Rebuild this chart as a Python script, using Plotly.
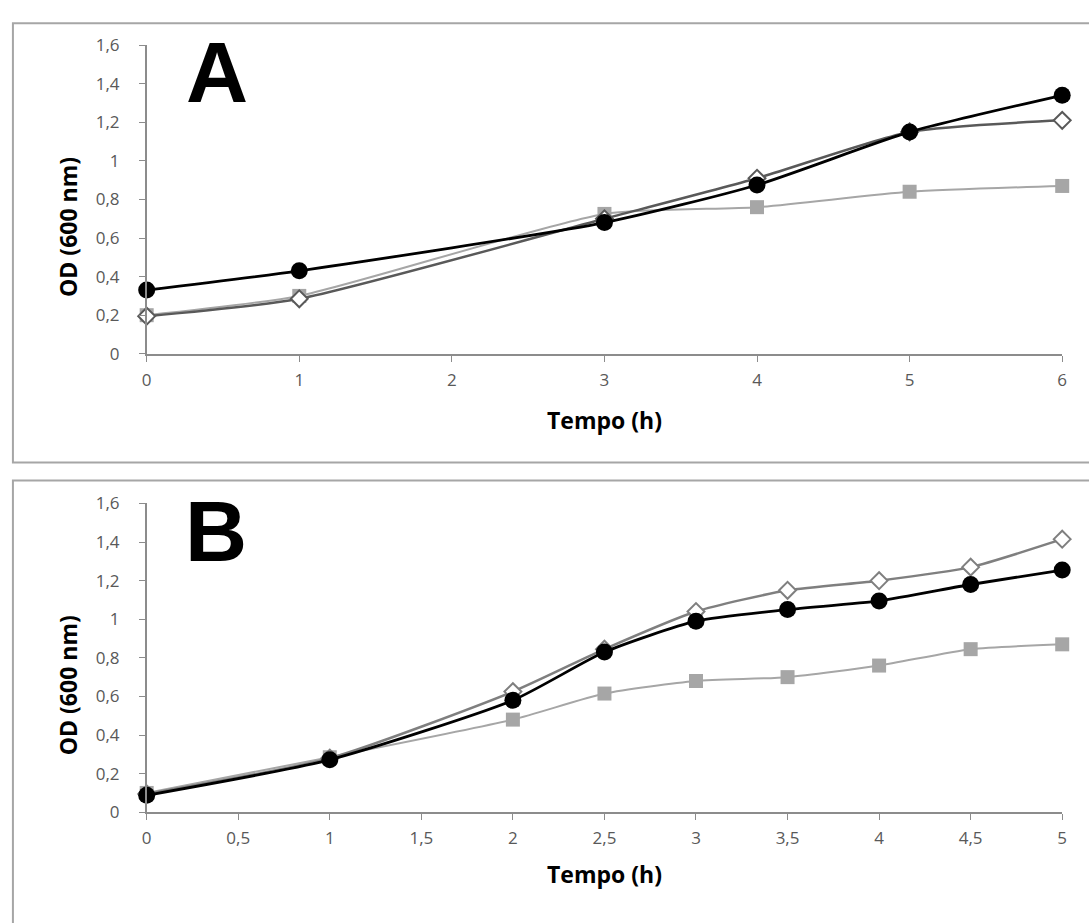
import plotly.graph_objects as go

# ---- data ----
time_a = [0, 1, 3, 4, 5, 6]
a_circle = [0.33, 0.43, 0.68, 0.875, 1.15, 1.34]
a_diamond = [0.195, 0.285, 0.70, 0.91, 1.15, 1.21]
a_square = [0.20, 0.30, 0.725, 0.76, 0.84, 0.87]

time_b = [0, 1, 2, 2.5, 3, 3.5, 4, 4.5, 5]
b_circle = [0.088, 0.272, 0.58, 0.83, 0.99, 1.05, 1.095, 1.18, 1.255]
b_diamond = [0.095, 0.28, 0.625, 0.845, 1.04, 1.15, 1.20, 1.27, 1.415]
b_square = [0.10, 0.285, 0.48, 0.615, 0.68, 0.70, 0.76, 0.845, 0.87]

y_ticks = [0, 0.2, 0.4, 0.6, 0.8, 1.0, 1.2, 1.4, 1.6]
y_ticktext = ["0", "0,2", "0,4", "0,6", "0,8", "1", "1,2", "1,4", "1,6"]
xa_ticks = [0, 1, 2, 3, 4, 5, 6]
xa_ticktext = ["0", "1", "2", "3", "4", "5", "6"]
xb_ticks = [0, 0.5, 1, 1.5, 2, 2.5, 3, 3.5, 4, 4.5, 5]
xb_ticktext = ["0", "0,5", "1", "1,5", "2", "2,5", "3", "3,5", "4", "4,5", "5"]

W, H = 1089, 923
FONT = "Open Sans"

fig = go.Figure()

def add_series(x, y, xa, ya, kind, diamond_line):
    if kind == "square":
        fig.add_trace(go.Scatter(x=x, y=y, xaxis=xa, yaxis=ya, mode="lines+markers", cliponaxis=False,
                                 line=dict(color="#a6a6a6", width=2, shape="spline", smoothing=0.6),
                                 marker=dict(symbol="square", size=14, color="#a6a6a6"),
                                 showlegend=False))
    elif kind == "diamond":
        fig.add_trace(go.Scatter(x=x, y=y, xaxis=xa, yaxis=ya, mode="lines+markers", cliponaxis=False,
                                 line=dict(color=diamond_line, width=2.5, shape="spline", smoothing=0.6),
                                 marker=dict(symbol="diamond", size=13, color="white",
                                             line=dict(color=diamond_line, width=2)),
                                 showlegend=False))
    else:
        fig.add_trace(go.Scatter(x=x, y=y, xaxis=xa, yaxis=ya, mode="lines+markers", cliponaxis=False,
                                 line=dict(color="black", width=2.8, shape="spline", smoothing=0.6),
                                 marker=dict(symbol="circle", size=17, color="black"),
                                 showlegend=False))

add_series(time_a, a_square, "x", "y", "square", None)
add_series(time_a, a_diamond, "x", "y", "diamond", "#595959")
add_series(time_a, a_circle, "x", "y", "circle", None)
add_series(time_b, b_square, "x2", "y2", "square", None)
add_series(time_b, b_diamond, "x2", "y2", "diamond", "#7f7f7f")
add_series(time_b, b_circle, "x2", "y2", "circle", None)

xdom = [143 / W, 1067 / W]
ya_dom = [1 - 350.5 / H, 1 - 34 / H]
yb_dom = [1 - 820.7 / H, 1 - 504 / H]

axis_common = dict(showgrid=False, zeroline=False, showline=True, linecolor="#8c8c8c",
                   linewidth=1.5, ticks="outside", ticklen=6, tickcolor="#8c8c8c",
                   tickfont=dict(family=FONT, size=17, color="#595959"))

fig.update_layout(
    width=W, height=H,
    margin=dict(l=0, r=0, t=0, b=0),
    paper_bgcolor="white", plot_bgcolor="white",
    xaxis=dict(domain=xdom, anchor="y", range=[0, 6], tickvals=xa_ticks, ticktext=xa_ticktext,
               ticklabelstandoff=4, **axis_common),
    yaxis=dict(domain=ya_dom, anchor="x", range=[0, 1.6], tickvals=y_ticks, ticktext=y_ticktext,
               ticklabelstandoff=16, **axis_common),
    xaxis2=dict(domain=xdom, anchor="y2", range=[0, 5], tickvals=xb_ticks, ticktext=xb_ticktext,
                ticklabelstandoff=4, **axis_common),
    yaxis2=dict(domain=yb_dom, anchor="x2", range=[0, 1.6], tickvals=y_ticks, ticktext=y_ticktext,
                ticklabelstandoff=16, **axis_common),
)

title_font = dict(family=FONT, size=23, color="black")
# axis titles
for (xp, yp) in [(605, 418), (605, 884)]:
    fig.add_annotation(text="<b>Tempo (h)</b>", xref="paper", yref="paper", x=xp / W, y=1 - yp / H,
                       showarrow=False, font=title_font, xanchor="center", yanchor="middle")
for (xp, yp) in [(63, 220), (63, 690)]:
    fig.add_annotation(text="<b>OD (600 nm)</b>", xref="paper", yref="paper", x=xp / W, y=1 - yp / H,
                       showarrow=False, font=title_font, textangle=-90,
                       xanchor="center", yanchor="middle")

# panel frames
fig.add_shape(type="rect", xref="paper", yref="paper",
              x0=8 / W, x1=1.02, y0=1 - 462 / H, y1=1 - 11.5 / H,
              line=dict(color="#a6a6a6", width=2), fillcolor="rgba(0,0,0,0)", layer="below")
fig.add_shape(type="rect", xref="paper", yref="paper",
              x0=8 / W, x1=1.02, y0=-0.02, y1=1 - 480.5 / H,
              line=dict(color="#a6a6a6", width=2), fillcolor="rgba(0,0,0,0)", layer="below")

# panel letters
fig.add_annotation(text="<b>A</b>", xref="paper", yref="paper", x=214 / W, y=1 - 62 / H,
                   showarrow=False, font=dict(family="Liberation Sans", size=86, color="black"),
                   xanchor="center", yanchor="middle")
fig.add_annotation(text="<b>B</b>", xref="paper", yref="paper", x=213 / W, y=1 - 532 / H,
                   showarrow=False, font=dict(family="Liberation Sans", size=86, color="black"),
                   xanchor="center", yanchor="middle")

fig.write_html("out.html")
